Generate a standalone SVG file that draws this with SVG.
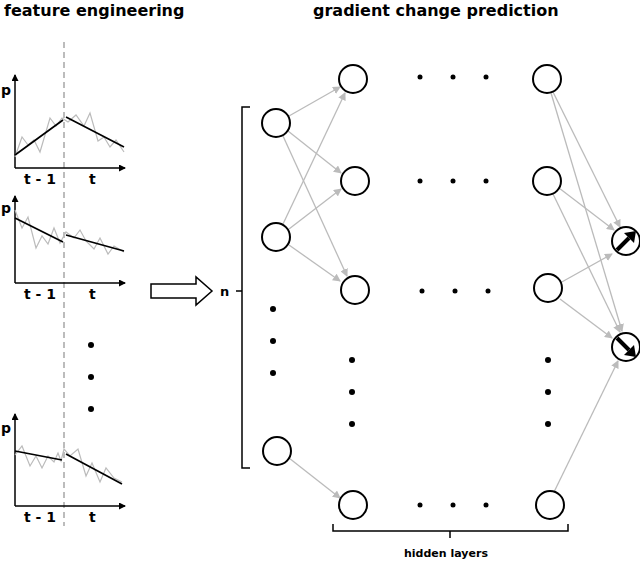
<svg xmlns="http://www.w3.org/2000/svg" width="640" height="563" viewBox="0 0 640 563">
<style>
text{font-family:"DejaVu Sans",sans-serif;font-weight:bold;fill:#000}
.t{font-size:16px}
.l{font-size:14px}
.n{fill:#fff;stroke:#000;stroke-width:2}
.e{stroke:#bbb;stroke-width:1.3;fill:none;marker-end:url(#ah)}
.ax{stroke:#000;stroke-width:1.5;fill:none;marker-end:url(#ax)}
.g{stroke:#bbb;stroke-width:1.2;fill:none}
.k{stroke:#000;stroke-width:1.7;fill:none}
.br{stroke:#000;stroke-width:1.5;fill:none}
</style>
<defs>
<marker id="ah" markerWidth="8" markerHeight="8" refX="7" refY="4" orient="auto" markerUnits="userSpaceOnUse"><path d="M0,0L8,4L0,8z" fill="#bbb"/></marker>
<marker id="ax" markerWidth="7" markerHeight="7" refX="6" refY="3.5" orient="auto" markerUnits="userSpaceOnUse"><path d="M0,0L7,3.5L0,7z" fill="#000"/></marker>
</defs>
<text class="t" x="4" y="16">feature engineering</text>
<text class="t" x="313" y="16">gradient change prediction</text>
<g id="charts">
<line x1="64" y1="42" x2="64" y2="526" stroke="#999" stroke-width="1.3" stroke-dasharray="6,4"/>
<path class="ax" d="M15,168V75"/><path class="ax" d="M15,168H125"/>
<path class="g" d="M15,157L22,137L28,145L34,140L40,152L50,118L56,126L62,118L68,122L76,115L84,126L90,113L98,141L104,137L110,147L116,140L124,152"/>
<path class="k" d="M15,155L63,120M66,117L124,147"/>
<text class="l" x="1" y="95">p</text><text class="l" x="24" y="184">t - 1</text><text class="l" x="89" y="184">t</text>
<path class="ax" d="M15,283V196"/><path class="ax" d="M15,283H125"/>
<path class="g" d="M15,210L22,228L28,217L36,248L42,236L48,244L54,228L60,243L66,232L74,238L80,230L86,241L94,249L100,238L108,254L114,246L124,252"/>
<path class="k" d="M15,218L63,242M66,235L124,251"/>
<text class="l" x="1" y="213">p</text><text class="l" x="24" y="299">t - 1</text><text class="l" x="89" y="299">t</text>
<path class="ax" d="M15,506V414"/><path class="ax" d="M15,506H125"/>
<path class="g" d="M15,455L22,446L30,466L36,456L42,468L48,456L54,462L58,453L61,461L64,449L70,456L78,449L86,476L92,463L100,482L106,468L114,478L122,482"/>
<path class="k" d="M15,451L62,460M66,454L122,484"/>
<text class="l" x="1" y="433">p</text><text class="l" x="24" y="522">t - 1</text><text class="l" x="89" y="522">t</text>
<circle cx="91" cy="345" r="3"/><circle cx="91" cy="377" r="3"/><circle cx="91" cy="409" r="3"/>
</g>
<path id="bigarrow" d="M151,284H196V277L212,291L196,305V298H151Z" fill="#fff" stroke="#000" stroke-width="1.5"/>
<g id="brackets">
<path class="br" d="M250,107H242V468H250M242,291H236"/>
<text class="l" x="220" y="296" style="font-size:13px">n</text>
<path class="br" d="M333,524V531H568V524M450,531V538"/>
<text class="l" x="404" y="557" style="font-size:11px">hidden layers</text>
</g>
<g id="connectors">
<path class="e" d="M289,116L340,87"/>
<path class="e" d="M288,131L341,173"/>
<path class="e" d="M283,136L347,276"/>
<path class="e" d="M283,224L345,93"/>
<path class="e" d="M289,229L341,189"/>
<path class="e" d="M289,245L340,281"/>
<path class="e" d="M289,458L340,498"/>
<path class="e" d="M553,92L620,227"/>
<path class="e" d="M551,93L622,331"/>
<path class="e" d="M559,188L614,230"/>
<path class="e" d="M553,194L620,332"/>
<path class="e" d="M560,283L612,254"/>
<path class="e" d="M560,299L612,338"/>
<path class="e" d="M554,492L618,361"/>
</g>
<g id="dots">
<circle cx="420" cy="77" r="2.5"/><circle cx="453" cy="77" r="2.5"/><circle cx="486" cy="77" r="2.5"/>
<circle cx="420" cy="181" r="2.5"/><circle cx="453" cy="181" r="2.5"/><circle cx="486" cy="181" r="2.5"/>
<circle cx="422" cy="291" r="2.5"/><circle cx="455" cy="291" r="2.5"/><circle cx="488" cy="291" r="2.5"/>
<circle cx="420" cy="505" r="2.5"/><circle cx="453" cy="505" r="2.5"/><circle cx="486" cy="505" r="2.5"/>
<circle cx="273" cy="309" r="3"/><circle cx="273" cy="341" r="3"/><circle cx="273" cy="373" r="3"/>
<circle cx="352" cy="360" r="3"/><circle cx="352" cy="392" r="3"/><circle cx="352" cy="424" r="3"/>
<circle cx="548" cy="360" r="3"/><circle cx="548" cy="392" r="3"/><circle cx="548" cy="424" r="3"/>
</g>
<g id="in1"><circle class="n" cx="276" cy="123" r="14"/></g>
<g id="in2"><circle class="n" cx="276" cy="237" r="14"/></g>
<g id="in3"><circle class="n" cx="277" cy="451" r="14"/></g>
<g id="h1a"><circle class="n" cx="353" cy="79" r="14"/></g>
<g id="h1b"><circle class="n" cx="355" cy="181" r="14"/></g>
<g id="h1c"><circle class="n" cx="355" cy="290" r="14"/></g>
<g id="h1d"><circle class="n" cx="353" cy="505" r="14"/></g>
<g id="hNa"><circle class="n" cx="547" cy="79" r="14"/></g>
<g id="hNb"><circle class="n" cx="547" cy="181" r="14"/></g>
<g id="hNc"><circle class="n" cx="548" cy="288" r="14"/></g>
<g id="hNd"><circle class="n" cx="550" cy="505" r="14"/></g>
<g id="outUp"><circle class="n" cx="626" cy="241" r="14"/>
<path d="M617,250L629,238" stroke="#000" stroke-width="4"/><path d="M636,231L624,233L634,243Z" fill="#000"/></g>
<g id="outDown"><circle class="n" cx="626" cy="347" r="14"/>
<path d="M617,338L629,350" stroke="#000" stroke-width="4"/><path d="M636,357L634,345L624,355Z" fill="#000"/></g>
</svg>
